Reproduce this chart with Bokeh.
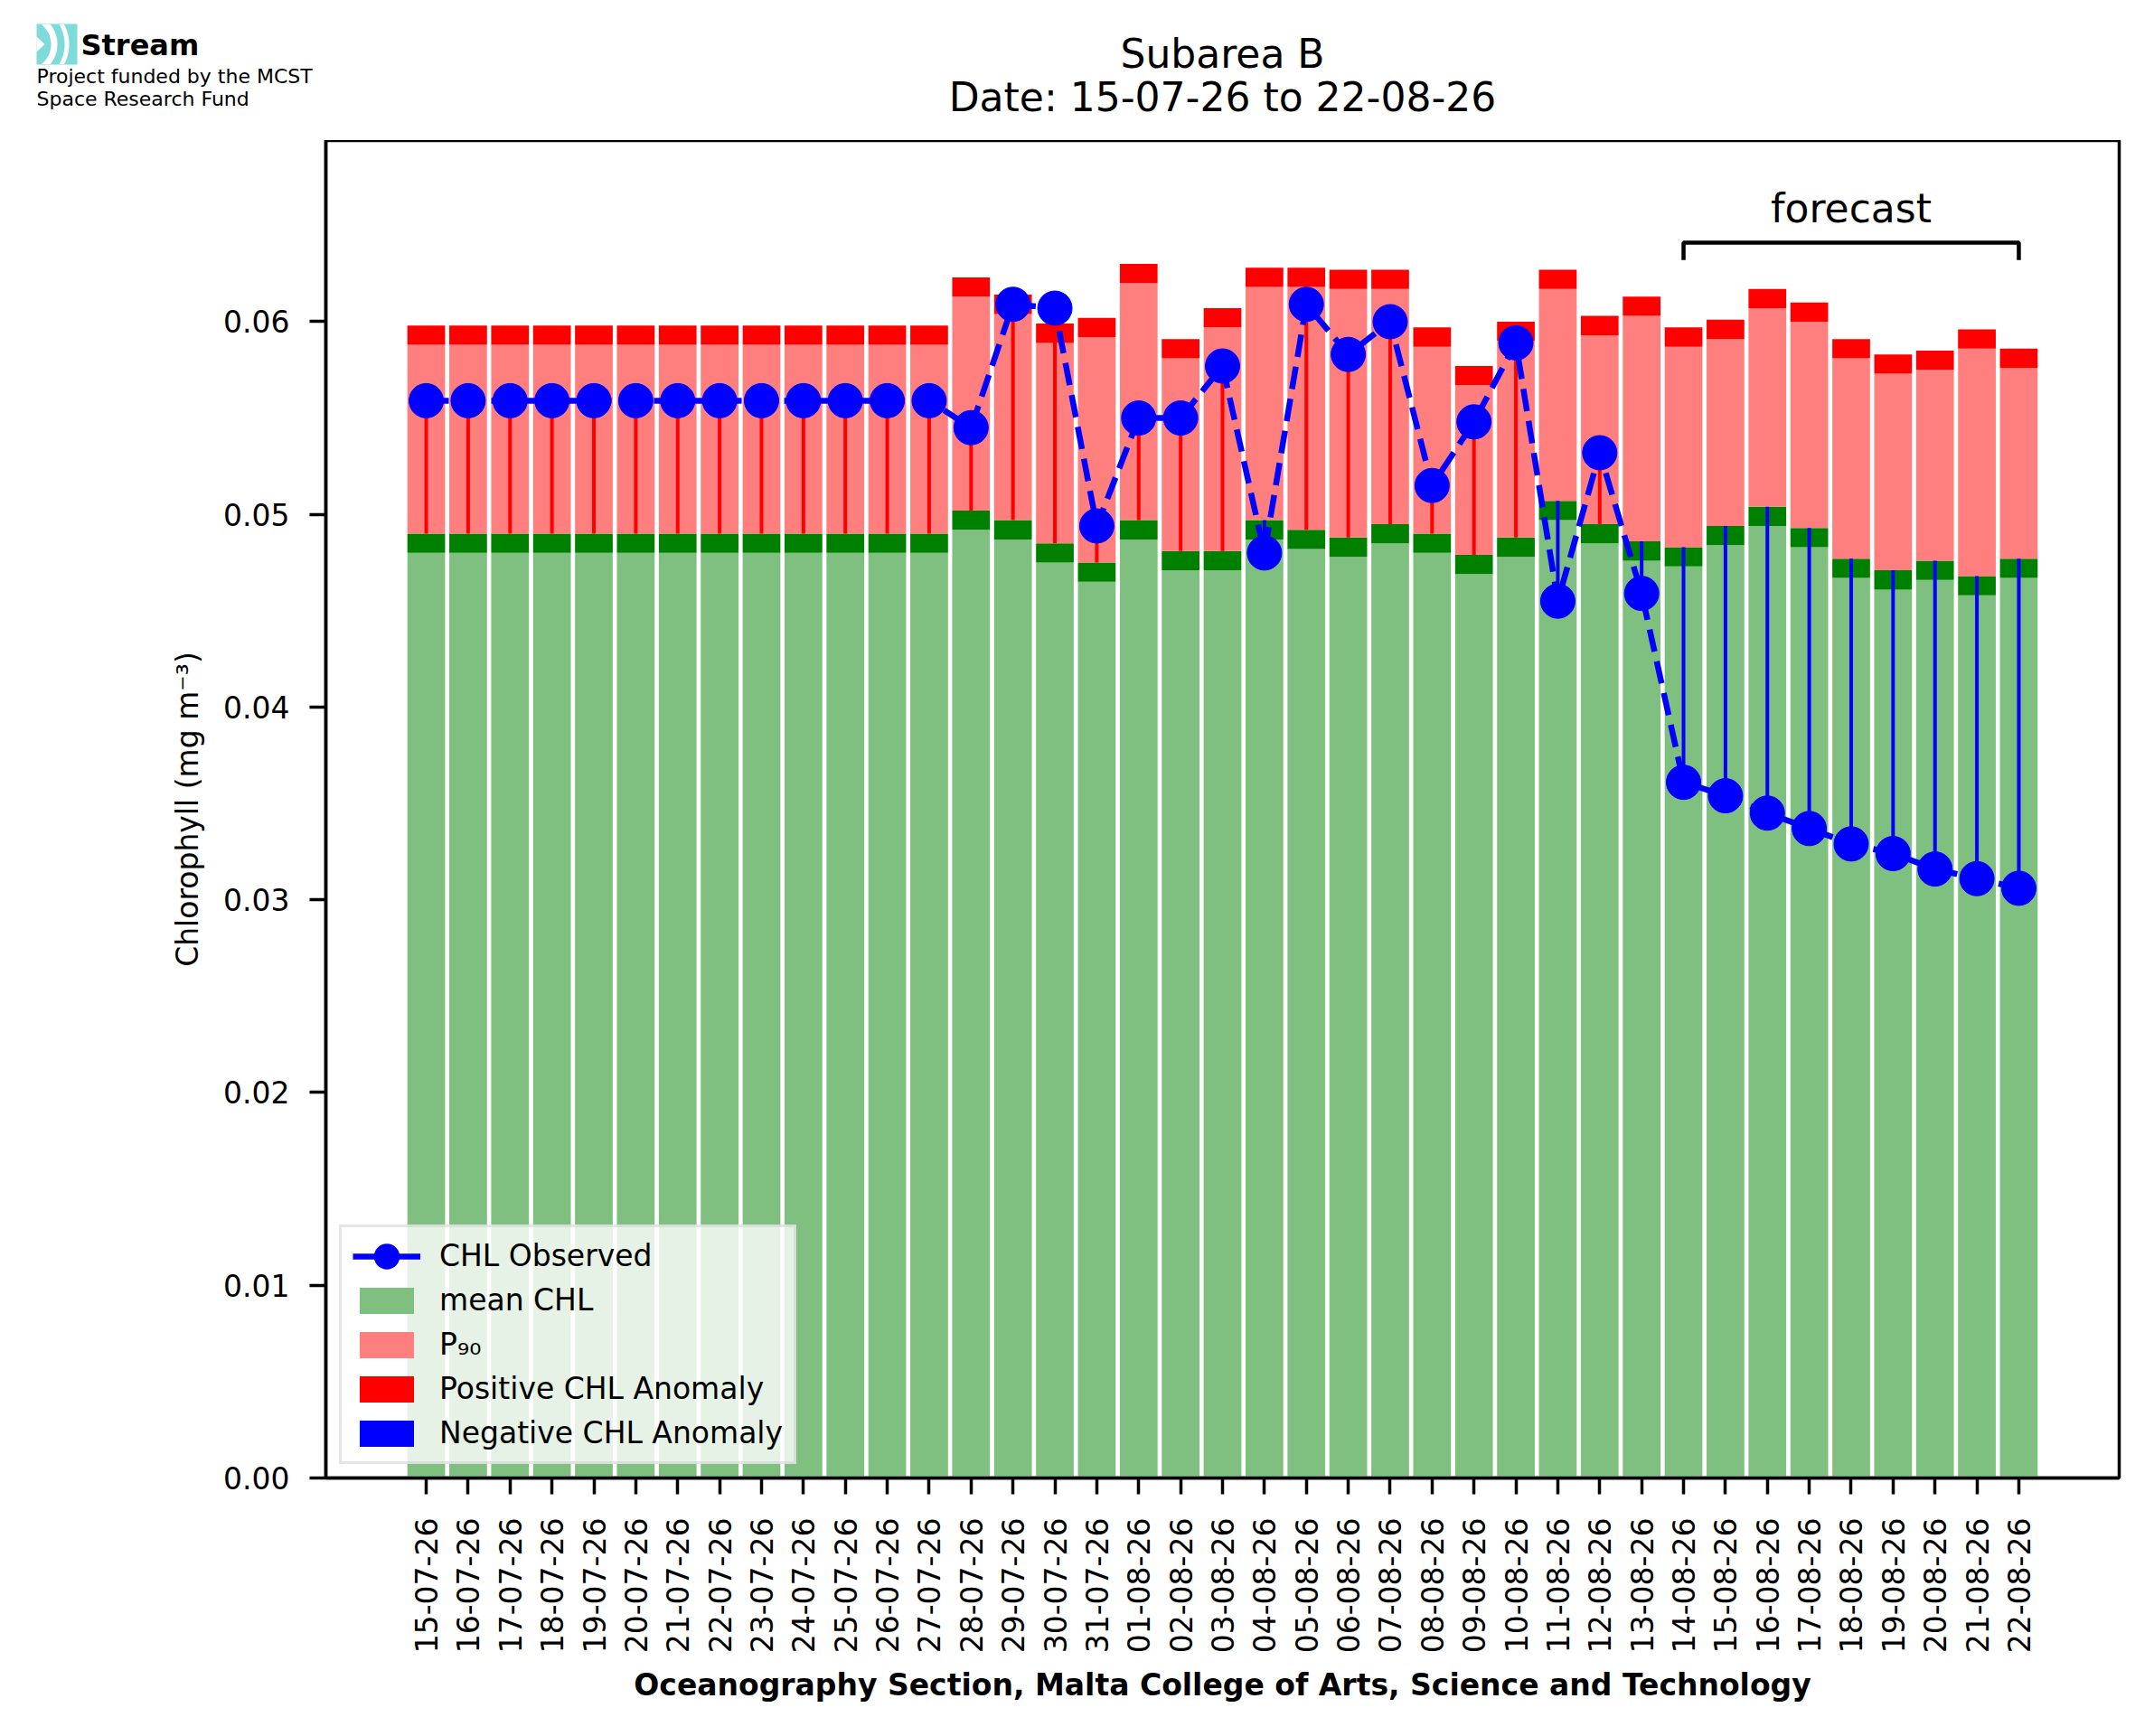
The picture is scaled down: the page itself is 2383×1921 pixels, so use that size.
import numpy as np
from bokeh.plotting import figure
from bokeh.layouts import column
from bokeh.models import (ColumnDataSource, Range1d, FixedTicker, NumeralTickFormatter,
                          Legend, LegendItem, Label, BoxAnnotation, PolyAnnotation)
from bokeh.embed import file_html
from bokeh.resources import INLINE

# ---- data ----
dates = ["15-07-26", "16-07-26", "17-07-26", "18-07-26", "19-07-26", "20-07-26",
         "21-07-26", "22-07-26", "23-07-26", "24-07-26", "25-07-26", "26-07-26",
         "27-07-26", "28-07-26", "29-07-26", "30-07-26", "31-07-26", "01-08-26",
         "02-08-26", "03-08-26", "04-08-26", "05-08-26", "06-08-26", "07-08-26",
         "08-08-26", "09-08-26", "10-08-26", "11-08-26", "12-08-26", "13-08-26",
         "14-08-26", "15-08-26", "16-08-26", "17-08-26", "18-08-26", "19-08-26",
         "20-08-26", "21-08-26", "22-08-26"]

# mean CHL (top of the light green bar)
mean_chl = [0.0480, 0.0480, 0.0480, 0.0480, 0.0480, 0.0480, 0.0480, 0.0480,
            0.0480, 0.0480, 0.0480, 0.0480, 0.0480, 0.0492, 0.0487, 0.0475,
            0.0465, 0.0487, 0.0471, 0.0471, 0.0487, 0.0482, 0.0478, 0.0485,
            0.0480, 0.0469, 0.0478, 0.0497, 0.0485, 0.0476, 0.0473, 0.0484,
            0.0494, 0.0483, 0.0467, 0.0461, 0.0466, 0.0458, 0.0467]

# 90th percentile (top of the light red bar)
p90_chl = [0.0588, 0.0588, 0.0588, 0.0588, 0.0588, 0.0588, 0.0588, 0.0588,
           0.0588, 0.0588, 0.0588, 0.0588, 0.0588, 0.0613, 0.0604, 0.0589,
           0.0592, 0.0620, 0.0581, 0.0597, 0.0618, 0.0618, 0.0617, 0.0617,
           0.0587, 0.0567, 0.0590, 0.0617, 0.0593, 0.0603, 0.0587, 0.0591,
           0.0607, 0.0600, 0.0581, 0.0573, 0.0575, 0.0586, 0.0576]

# observed / forecast CHL
chl_obs = [0.0559, 0.0559, 0.0559, 0.0559, 0.0559, 0.0559, 0.0559, 0.0559,
           0.0559, 0.0559, 0.0559, 0.0559, 0.0559, 0.0545, 0.0609, 0.0607,
           0.0494, 0.0550, 0.0550, 0.0577, 0.0480, 0.0609, 0.0583, 0.0600,
           0.0515, 0.0548, 0.0589, 0.0455, 0.0532, 0.0459, 0.0361, 0.0354,
           0.0345, 0.0337, 0.0329, 0.0324, 0.0316, 0.0311, 0.0306]

yticks = [0.00, 0.01, 0.02, 0.03, 0.04, 0.05, 0.06]
forecast_start = "14-08-26"
band = 0.001  # thickness of the dark green / red caps

FONT = "DejaVu Sans"
FW, FH = 1984, 1480
LEFT, RIGHT, HEAD, BOTTOM = 360, 31, 155, 278
W = LEFT + FW + RIGHT

n = len(dates)
x = list(range(n))
ref = [m + band for m in mean_chl]
src = ColumnDataSource(dict(
    x=x, mean=mean_chl, mean_top=ref, p90=p90_chl,
    p90_top=[v + band for v in p90_chl], obs=chl_obs,
    stem=["red" if o >= r else "blue" for o, r in zip(chl_obs, ref)],
))

# ---- header strip: logo and title ----
head = figure(width=W, height=HEAD, x_range=Range1d(0, W), y_range=Range1d(HEAD, 0),
              x_axis_type=None, y_axis_type=None, min_border=0,
              output_backend="svg", toolbar_location=None)
head.frame_align = False
head.outline_line_color = None
head.grid.visible = False

head.add_layout(Label(x=LEFT + FW / 2, y=59, text="Subarea B", text_align="center",
                      text_baseline="alphabetic", text_font=FONT, text_font_size="44px",
                      text_color="black"))
head.add_layout(Label(x=LEFT + FW / 2, y=107, text=f"Date: {dates[0]} to {dates[-1]}",
                      text_align="center", text_baseline="alphabetic",
                      text_font=FONT, text_font_size="44px", text_color="black"))

head.add_layout(BoxAnnotation(left=40, right=85, top=26, bottom=71,
                              fill_color="#7fdbd9", fill_alpha=1, line_color=None))
cx, cy = 28, 48.5
for r_in, r_out in [(28, 35), (43, 48)]:
    t_out = np.arcsin(min(1.0, 22 / r_out))
    t_in = np.arcsin(min(1.0, 22 / r_in))
    a_out = np.linspace(-t_out, t_out, 20)
    a_in = np.linspace(t_in, -t_in, 20)
    xs = list(cx + r_out * np.cos(a_out)) + list(cx + r_in * np.cos(a_in))
    ys = list(cy + r_out * np.sin(a_out)) + list(cy + r_in * np.sin(a_in))
    head.add_layout(PolyAnnotation(xs=xs, ys=ys, fill_color="white", fill_alpha=1,
                                   line_color=None))
head.add_layout(PolyAnnotation(xs=[40, 49, 40], ys=[40, 48.5, 57], fill_color="white",
                               fill_alpha=1, line_color=None))
head.add_layout(Label(x=89, y=49, text="Stream", text_baseline="alphabetic",
                      text_font=FONT, text_font_style="bold", text_font_size="32px",
                      text_color="black"))
head.add_layout(Label(x=40, y=84, text="Project funded by the MCST",
                      text_baseline="alphabetic", text_font=FONT, text_font_size="22px",
                      text_color="black"))
head.add_layout(Label(x=40, y=109, text="Space Research Fund",
                      text_baseline="alphabetic", text_font=FONT, text_font_size="22px",
                      text_color="black"))

# ---- main chart ----
p = figure(frame_width=FW, frame_height=FH,
           x_range=Range1d(-2.395, 40.395), y_range=Range1d(0, 0.0694),
           output_backend="svg", toolbar_location=None,
           min_border_left=LEFT, min_border_right=RIGHT,
           min_border_top=0, min_border_bottom=BOTTOM)
p.frame_align = False
p.xgrid.visible = False
p.ygrid.visible = False
p.outline_line_color = "black"
p.outline_line_width = 3.5
p.outline_line_alpha = 1.0

# bars
r_mean = p.vbar(x="x", width=0.9, bottom=0, top="mean", source=src,
                fill_color="#7fbf7f", line_color=None)
p.vbar(x="x", width=0.9, bottom="mean", top="mean_top", source=src,
       fill_color="#008000", line_color=None)
r_p90 = p.vbar(x="x", width=0.9, bottom="mean_top", top="p90", source=src,
               fill_color="#ff7f7f", line_color=None)
r_pos = p.vbar(x="x", width=0.9, bottom="p90", top="p90_top", source=src,
               fill_color="#ff0000", line_color=None)

# anomaly stems
p.segment(x0="x", y0="mean_top", x1="x", y1="obs", source=src,
          line_color="stem", line_width=4)

# observed line
p.line("x", "obs", source=src, line_color="blue", line_width=6.5, line_dash="25 11")
p.scatter("x", "obs", source=src, size=38, fill_color="blue", line_color="blue")

# forecast bracket
i0, i1 = dates.index(forecast_start), n - 1
p.line([i0, i0, i1, i1], [0.0632, 0.0641, 0.0641, 0.0632], line_color="black",
       line_width=4.5)
p.add_layout(Label(x=(i0 + i1) / 2, y=0.0659, text="forecast", text_align="center",
                   text_baseline="alphabetic", text_font=FONT, text_font_size="44px",
                   text_color="black"))

# legend (proxy renderers that draw nothing on the chart)
proxy = ColumnDataSource(dict(x=[np.nan], y=[np.nan]))
leg_line = p.line("x", "y", source=proxy, line_color="blue", line_width=6.5)
leg_dot = p.scatter("x", "y", source=proxy, size=38, fill_color="blue",
                    line_color="blue", line_width=14)
leg_neg = p.vbar(x="x", top="y", width=0.9, source=proxy, fill_color="blue",
                 line_color=None)
legend = Legend(items=[
    LegendItem(label="CHL Observed", renderers=[leg_line, leg_dot]),
    LegendItem(label="mean CHL", renderers=[r_mean]),
    LegendItem(label="P₉₀", renderers=[r_p90]),
    LegendItem(label="Positive CHL Anomaly", renderers=[r_pos]),
    LegendItem(label="Negative CHL Anomaly", renderers=[leg_neg]),
], location="bottom_left")
legend.glyph_width = 75
legend.glyph_height = 36
legend.label_height = 30
legend.label_standoff = 21
legend.padding = 12
legend.spacing = 10
legend.margin = 15
legend.label_text_font = FONT
legend.label_text_font_size = "33px"
legend.label_text_color = "black"
legend.border_line_color = "#cccccc"
legend.border_line_width = 3
legend.background_fill_alpha = 0.8
p.add_layout(legend)

# axes
p.xaxis.ticker = FixedTicker(ticks=x)
p.xaxis.major_label_overrides = {i: d for i, d in enumerate(dates)}
p.xaxis.major_label_orientation = np.pi / 2
p.yaxis.ticker = FixedTicker(ticks=yticks)
p.yaxis.formatter = NumeralTickFormatter(format="0.00")
for ax in (p.xaxis, p.yaxis):
    ax.axis_line_width = 3.5
    ax.major_tick_line_width = 3.5
    ax.major_tick_out = 18
    ax.major_tick_in = 0
    ax.minor_tick_out = 0
    ax.minor_tick_in = 0
    ax.major_label_text_font = FONT
    ax.major_label_text_font_size = "33px"
    ax.major_label_text_color = "black"
    ax.axis_label_text_font = FONT
    ax.axis_label_text_color = "black"
p.xaxis.major_label_standoff = 26
p.yaxis.major_label_standoff = 22
p.xaxis.axis_label = "Oceanography Section, Malta College of Arts, Science and Technology"
p.xaxis.axis_label_text_font_style = "bold"
p.xaxis.axis_label_text_font_size = "33px"
p.xaxis.axis_label_standoff = 13
p.yaxis.axis_label = "Chlorophyll (mg m⁻³)"
p.yaxis.axis_label_text_font_style = "normal"
p.yaxis.axis_label_text_font_size = "33px"
p.yaxis.axis_label_standoff = 17

open("out.html", "w").write(file_html(column(head, p), INLINE))
